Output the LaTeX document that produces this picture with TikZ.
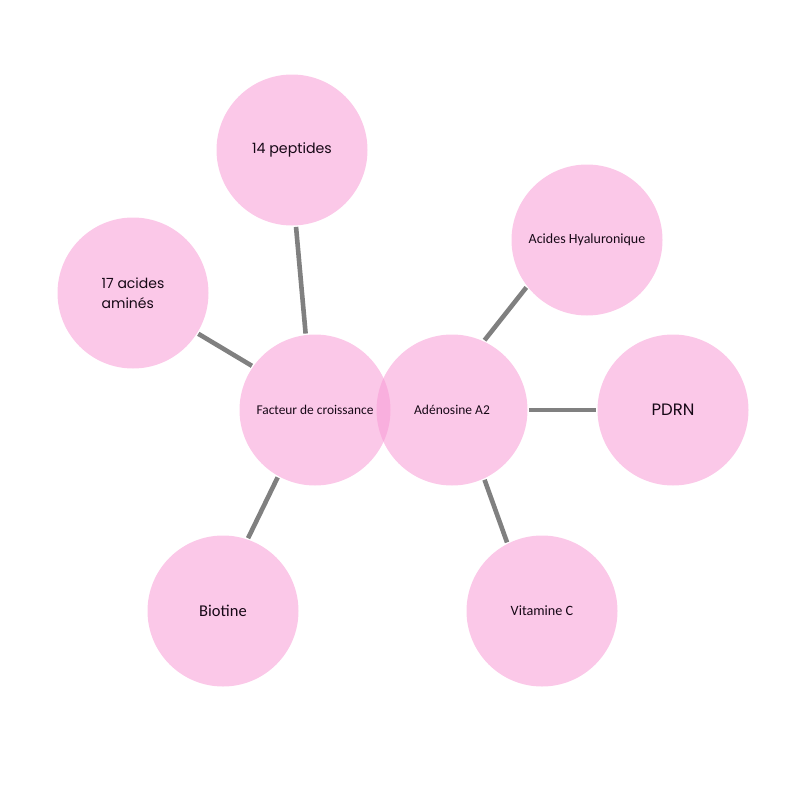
\documentclass[tikz,border=0pt]{standalone}
\usepackage{fontspec}
\setmainfont{Carlito}
\newfontfamily\geofont{Poppins}
\definecolor{bubble}{RGB}{248,155,213}
\definecolor{link}{RGB}{128,128,128}
\definecolor{ink}{RGB}{22,8,22}
\begin{document}
\begin{tikzpicture}[x=1pt,y=-1pt,
  bub/.style={circle,minimum size=151pt,inner sep=0pt,outer sep=1.5pt,fill=bubble,fill opacity=0.55,text opacity=1,text=ink},
  conn/.style={draw=link,line width=4.6pt}]
\useasboundingbox (0,0) rectangle (800,800);
\node[bub,font=\geofont\fontsize{14.2}{16}\selectfont] (pep) at (292,150) {14 peptides};
\node[bub,font=\geofont\fontsize{14}{20}\selectfont,align=left] (ami) at (133,293) {17 acides\\aminés};
\node[bub,font=\fontsize{13.4}{16}\selectfont] (fac) at (315,410) {Facteur de croissance};
\node[bub,font=\fontsize{13.5}{16}\selectfont] (ade) at (452,410) {Adénosine A2};
\node[bub,font=\fontsize{14}{16}\selectfont] (hya) at (587,240) {Acides Hyaluronique};
\node[bub,font=\geofont\fontsize{16.5}{18}\selectfont] (pdrn) at (673,410) {PDRN};
\node[bub,font=\fontsize{16.5}{18}\selectfont] (bio) at (223,611) {Biotine};
\node[bub,font=\fontsize{14.2}{16}\selectfont] (vit) at (542,611) {Vitamine C};
\draw[conn] (pep.-87) -- (fac.97);
\draw[conn] (ami.-32) -- (fac.145);
\draw[conn] (hya.218) -- (ade.65);
\draw[conn] (ade.east) -- (pdrn.west);
\draw[conn] (bio.71) -- (fac.241);
\draw[conn] (vit.117) -- (ade.-65);
\end{tikzpicture}
\end{document}
